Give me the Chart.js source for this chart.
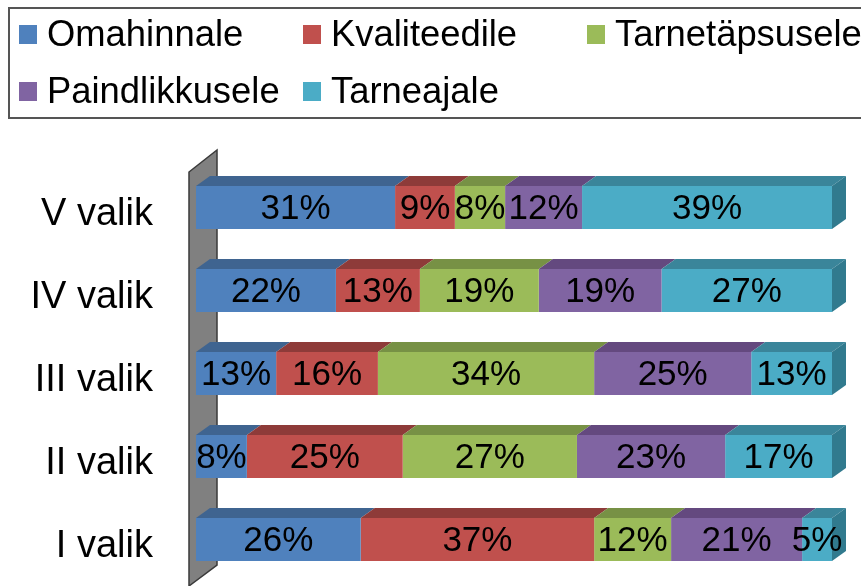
<!DOCTYPE html>
<html>
<head>
<meta charset="utf-8">
<style>
html,body{margin:0;padding:0;background:#fff;overflow:hidden}
#wrap{position:relative;width:861px;height:586px;overflow:hidden}
#chart{position:absolute;left:0;top:0}
#legend{position:absolute;left:8px;top:7px;width:860px;height:108px;border:2px solid #555;box-sizing:content-box;font-family:"Liberation Sans",Arial,sans-serif;font-size:36.4px;color:#000}
.item{position:absolute;white-space:nowrap;line-height:40px;height:40px}
.item i{position:absolute;left:0;top:10px;width:18px;height:19px}
.item span{position:absolute;left:28px;top:-1px}
</style>
</head>
<body>
<div id="wrap">
<canvas id="chart" style="width:861px;height:586px"></canvas>
<div id="legend"></div>
</div>
<script src="https://cdn.jsdelivr.net/npm/chart.js@4/dist/chart.umd.min.js"></script>
<script>
const categories = ["V valik", "IV valik", "III valik", "II valik", "I valik"];
const seriesNames = ["Omahinnale", "Kvaliteedile", "Tarnetäpsusele", "Paindlikkusele", "Tarneajale"];

// labels are the rounded values
const omahinnale = [31.3, 22.0, 12.6, 8.0, 25.9];
const kvaliteedile = [9.4, 13.2, 16.0, 24.5, 36.7];
const tarnetapsusele = [7.9, 18.7, 34.0, 27.4, 12.1];
const paindlikkusele = [12.1, 19.3, 24.7, 23.3, 20.6];
const tarneajale = [39.3, 26.8, 12.7, 16.8, 4.7];
const seriesValues = [omahinnale, kvaliteedile, tarnetapsusele, paindlikkusele, tarneajale];

const frontColors = ["#4f81bd", "#c0504d", "#9bbb59", "#8064a2", "#4bacc6"];
const topColors = ["#3f6490", "#8e3b39", "#779145", "#64497f", "#3a859a"];
const sideColor = "#317a8e";

const depthX = 14, depthY = 10;

// legend, 3 columns
const legendPos = [[9, 6], [293, 6], [577, 6], [9, 63], [293, 63]];
const legendBox = document.getElementById("legend");
seriesNames.forEach(function(name, i){
	const d = document.createElement("div");
	d.className = "item";
	d.style.left = legendPos[i][0] + "px";
	d.style.top = legendPos[i][1] + "px";
	d.innerHTML = '<i style="background:' + frontColors[i] + '"></i><span>' + name + '</span>';
	legendBox.appendChild(d);
});

function poly(ctx, pts, color){
	ctx.fillStyle = color;
	ctx.beginPath();
	ctx.moveTo(pts[0][0], pts[0][1]);
	for(let i = 1; i < pts.length; i++) ctx.lineTo(pts[i][0], pts[i][1]);
	ctx.closePath();
	ctx.fill();
}

const bars3d = {
	id: "bars3d",
	beforeDatasetsDraw(chart){
		const ctx = chart.ctx, a = chart.chartArea;
		// grey wall behind the bars
		ctx.save();
		poly(ctx, [[a.left - 7, a.top + 6], [a.left + 21, a.top - 16], [a.left + 21, a.bottom - 16], [a.left - 7, a.bottom + 5]], "#808080");
		ctx.strokeStyle = "#3a3a3a";
		ctx.lineWidth = 1.5;
		ctx.stroke();
		// top faces and the end face
		chart.data.datasets.forEach(function(ds, i){
			chart.getDatasetMeta(i).data.forEach(function(el){
				const top = el.y - el.height / 2, bottom = el.y + el.height / 2;
				poly(ctx, [[el.base, top], [el.x, top], [el.x + depthX, top - depthY], [el.base + depthX, top - depthY]], topColors[i]);
				if(i === chart.data.datasets.length - 1){
					poly(ctx, [[el.x, top], [el.x + depthX, top - depthY], [el.x + depthX, bottom - depthY], [el.x, bottom]], sideColor);
				}
			});
		});
		ctx.restore();
	},
	afterDatasetsDraw(chart){
		const ctx = chart.ctx;
		ctx.save();
		ctx.font = '35px "Liberation Sans", Arial, sans-serif';
		ctx.fillStyle = "#000";
		ctx.textAlign = "center";
		ctx.textBaseline = "middle";
		chart.data.datasets.forEach(function(ds, i){
			chart.getDatasetMeta(i).data.forEach(function(el, j){
				ctx.fillText(Math.round(ds.data[j]) + "%", (el.base + el.x) / 2, el.y + 2);
			});
		});
		ctx.restore();
	}
};

new Chart(document.getElementById("chart"), {
	type: "bar",
	data: {
		labels: categories,
		datasets: seriesNames.map(function(name, i){
			return {
				label: name,
				data: seriesValues[i],
				backgroundColor: frontColors[i],
				categoryPercentage: 1,
				barPercentage: 43 / 83
			};
		})
	},
	options: {
		indexAxis: "y",
		responsive: false,
		maintainAspectRatio: false,
		animation: false,
		layout: { padding: { top: 166, bottom: 5, right: 29, left: 0 } },
		plugins: { legend: { display: false }, tooltip: { enabled: false } },
		scales: {
			x: { stacked: true, min: 0, max: 100, display: false },
			y: {
				stacked: true,
				afterFit(scale){ scale.width = 196; },
				// tickLength instead of ticks.padding, padding eats into the plot height
				grid: { display: false, drawTicks: true, tickLength: 43 },
				border: { display: false },
				ticks: {
					color: "#000",
					padding: 0,
					labelOffset: 7,
					font: { family: '"Liberation Sans", Arial, sans-serif', size: 38, lineHeight: 0.25 }
				}
			}
		}
	},
	plugins: [bars3d]
});
</script>
</body>
</html>
